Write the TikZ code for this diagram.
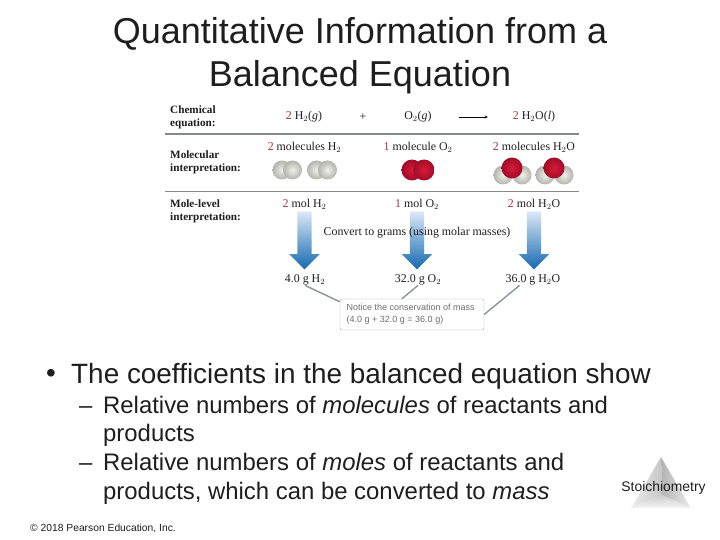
\documentclass[tikz,border=0pt]{standalone}
\usepackage{fontspec}
\setmainfont{Liberation Serif}
\newfontfamily\arialfont{Liberation Sans}
\usepackage{xcolor}
\usepackage{tikz}
\usetikzlibrary{positioning,shapes,arrows}
\definecolor{coefred}{HTML}{A5303A}
\definecolor{rulegray}{HTML}{85898C}
\definecolor{txtblack}{HTML}{1E1E1E}
\definecolor{linkgray}{HTML}{8A9499}
\definecolor{hlight}{HTML}{F0F0EC}
\definecolor{hdark}{HTML}{B4B4AE}
\definecolor{olight}{HTML}{D81A38}
\definecolor{odark}{HTML}{A00C28}
\definecolor{arrowtop}{HTML}{DCE8F8}
\definecolor{arrowbot}{HTML}{1469B0}

\begin{document}
\begin{tikzpicture}[
x=1pt, y=-1pt,
titleline/.style={font=\arialfont\fontsize{36}{38}\selectfont, text=txtblack, inner sep=0pt},
bulletline/.style={font=\arialfont\fontsize{27.9}{30}\selectfont, text=txtblack, inner sep=0pt, anchor=west},
subline/.style={font=\arialfont\fontsize{23.9}{26}\selectfont, text=txtblack, inner sep=0pt, anchor=west, text height=17pt, text depth=5pt},
rowlabel/.style={font=\bfseries\fontsize{11.2}{13}\selectfont, align=left, anchor=west, inner sep=0pt, text=txtblack},
chem/.style={font=\fontsize{11.9}{13}\selectfont, inner sep=0pt, text=txtblack},
hatom/.style={circle, minimum size=19pt, inner sep=0pt, inner color=hlight, outer color=hdark},
oatom/.style={circle, minimum size=21pt, inner sep=0pt, inner color=olight, outer color=odark},
blockarrow/.style={single arrow, shape border rotate=270, minimum height=58pt, minimum width=30pt, single arrow head extend=8pt, single arrow tip angle=90, single arrow head indent=0pt, inner xsep=7pt, inner ysep=0pt, top color=arrowtop, bottom color=arrowbot},
link/.style={draw=linkgray, line width=1.4pt},
]

\useasboundingbox (0,0) rectangle (720,540);

% title
\node[titleline] (title1) at (360,34) {Quantitative Information from a};
\node[titleline] (title2) at (360,77) {Balanced Equation};

% table of the equation
\node[rowlabel] (rowchem) at (170,117.5) {Chemical\\equation:};
\node[rowlabel] (rowmolec) at (170,162.5) {Molecular\\interpretation:};
\node[rowlabel] (rowmole) at (170,211) {Mole-level\\interpretation:};

\coordinate (ruleAl) at (165,134);
\coordinate (ruleAr) at (579,134);
\coordinate (ruleBl) at (165,191.5);
\coordinate (ruleBr) at (579,191.5);
\draw[rulegray, line width=1.5pt] (ruleAl) -- (ruleAr);
\draw[rulegray, line width=0.8pt] (ruleBl) -- (ruleBr);

\node[chem] (eqH2) at (304,117) {{\color{coefred}2} H$_2$(\textit{g})};
\node[chem] (eqplus) at (363,117) {+};
\node[chem] (eqO2) at (418,117) {O$_2$(\textit{g})};
\node[chem] (eqH2O) at (534,117) {{\color{coefred}2} H$_2$O(\textit{l})};
\draw[->, >=stealth, thin, shorten <=27pt, shorten >=25pt] (eqO2) -- (eqH2O);

\node[chem] (molecH2) at (304.5,147) {{\color{coefred}2} molecules H$_2$};
\node[chem] (molecO2) at (418,147) {{\color{coefred}1} molecule O$_2$};
\node[chem] (molecH2O) at (534,147) {{\color{coefred}2} molecules H$_2$O};

% molecules
\node[hatom] (h1) at (282,170) {};
\node[hatom] (h2) at (292.5,170) {};
\node[hatom] (h3) at (316.5,170) {};
\node[hatom] (h4) at (327.5,170) {};
\node[oatom] (o1) at (412,170) {};
\node[oatom] (o2) at (424,170) {};
\node[hatom] (h5) at (503,175) {};
\node[hatom] (h6) at (522,175) {};
\node[oatom] (o3) at (512,168) {};
\node[hatom] (h7) at (545,175) {};
\node[hatom] (h8) at (564,175) {};
\node[oatom] (o4) at (554,168) {};

\node[chem] (moleH2) at (304.5,204) {{\color{coefred}2} mol H$_2$};
\node[chem] (moleO2) at (417,204) {{\color{coefred}1} mol O$_2$};
\node[chem] (moleH2O) at (534,204) {{\color{coefred}2} mol H$_2$O};

% conversion
\node[blockarrow] (arrowH2) [below=2pt of moleH2] {};
\node[blockarrow] (arrowO2) [below=2pt of moleO2] {};
\node[blockarrow] (arrowH2O) [below=2pt of moleH2O] {};
\node[chem] (convert) at (417,233) {Convert to grams (using molar masses)};

\node[chem] (massH2) at (305,280) {4.0 g H$_2$};
\node[chem] (massO2) at (418,280) {32.0 g O$_2$};
\node[chem] (massH2O) at (533,280) {36.0 g H$_2$O};

\node[draw=gray!70, rounded corners=2pt, minimum width=144pt, minimum height=31pt, inner sep=0pt] (note) at (412,314.5) {};
\node[font=\arialfont\fontsize{9}{12}\selectfont, text=gray!85!black, align=left, inner sep=0pt, anchor=west] (notetext) at (346.5,314.5) {Notice the conservation of mass\\(4.0 g + 32.0 g = 36.0 g)};

\draw[link] (massH2.south) -- (note.170);
\draw[link] (massO2.south) -- (note.123);
\draw[link] (massH2O.202) -- (note.east);

% bullets
\node[bulletline] (bullet) at (46,376) {•};
\node[bulletline] (main) at (71,376) {The coefficients in the balanced equation show};
\node[subline] (dash1) at (79,407) {–};
\node[subline] (sub1) at (103,407) {Relative numbers of \textit{molecules} of reactants and};
\node[subline] (sub2) at (103,435.5) {products};
\node[subline] (dash2) at (79,464.5) {–};
\node[subline] (sub3) at (103,464.5) {Relative numbers of \textit{moles} of reactants and};
\node[subline] (sub4) at (103,493) {products, which can be converted to \textit{mass}};

\node[font=\arialfont\fontsize{10.3}{12}\selectfont, text=txtblack, inner sep=0pt, anchor=west] (copy) at (30,528) {© 2018 Pearson Education, Inc.};

% pyramid
\coordinate (apex) at (661,457);
\coordinate (baseL) at (631,508);
\coordinate (baseR) at (691,508);
\coordinate (inner) at (662,495);
\shade[left color=gray!15, right color=gray!45] (apex) -- (baseL) -- (inner) -- cycle;
\shade[left color=gray!60, right color=gray!15] (apex) -- (inner) -- (baseR) -- cycle;
\shade[top color=gray!40, bottom color=gray!8] (baseL) -- (inner) -- (baseR) -- cycle;
\node[font=\arialfont\fontsize{13.9}{15}\selectfont, text=txtblack, inner sep=0pt] (stoich) at (663.5,488) {Stoichiometry};

\end{tikzpicture}
\end{document}
